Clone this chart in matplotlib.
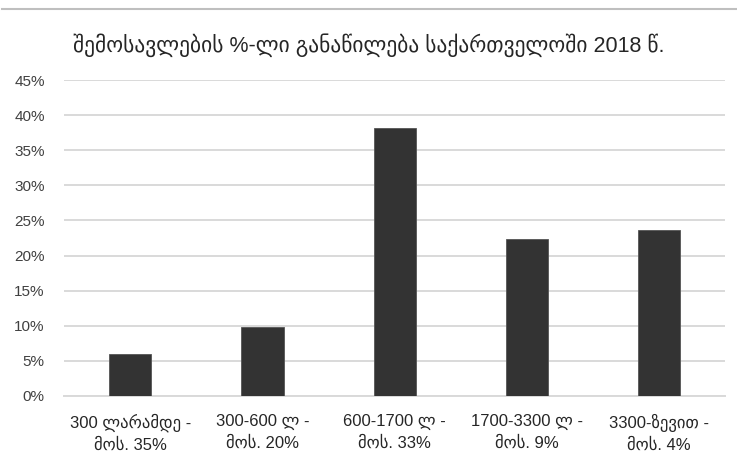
import matplotlib.pyplot as plt
from matplotlib.lines import Line2D
from matplotlib.ticker import FuncFormatter

plt.rcParams['font.family'] = ['Liberation Sans', 'DejaVu Sans']

# income groups and their share of the population
categories = ["300 ლარამდე -\nმოს. 35%", "300-600 ლ -\nმოს. 20%", "600-1700 ლ -\nმოს. 33%",
              "1700-3300 ლ -\nმოს. 9%", "3300-ზევით -\nმოს. 4%"]
income_share = [0.059, 0.098, 0.381, 0.223, 0.237]
title = "შემოსავლების %-ლი განაწილება საქართველოში 2018 წ."

fig = plt.figure(figsize=(7.37, 4.55), dpi=100)
ax = fig.add_axes([0.087, 0.13, 0.897, 0.694])

x = range(len(categories))
ax.bar(x, income_share, width=0.32, color="#333333", edgecolor="#555555", linewidth=0.6, zorder=3)

ax.set_ylim(0, 0.45)
ax.set_xlim(-0.5, len(categories) - 0.5)
ax.set_yticks([i * 0.05 for i in range(10)])
ax.yaxis.set_major_formatter(FuncFormatter(lambda v, p: f"{v * 100:.0f}%"))
ax.grid(axis="y", color="#d9d9d9", linewidth=1.4, zorder=0)
ax.set_xticks(list(x))
ax.set_xticklabels(categories, fontsize=12, color="#262626", linespacing=1.45)
ax.tick_params(axis="y", labelsize=11, labelcolor="#404040", length=0, pad=14)
ax.tick_params(axis="x", length=0, pad=13)
for s in ["top", "right", "left"]:
    ax.spines[s].set_visible(False)
ax.spines["bottom"].set_color("#d9d9d9")
ax.spines["bottom"].set_linewidth(1.4)

fig.text(0.5, 0.9, title, ha="center", va="center", fontsize=15.5, color="#262626")

# frame edge across the top
fig.add_artist(Line2D([0.003, 1.0], [1 - 8.5 / 455, 1 - 8.5 / 455], color="#bfbfbf", linewidth=1.5))

fig.savefig("out.png", dpi=100, facecolor="white")
